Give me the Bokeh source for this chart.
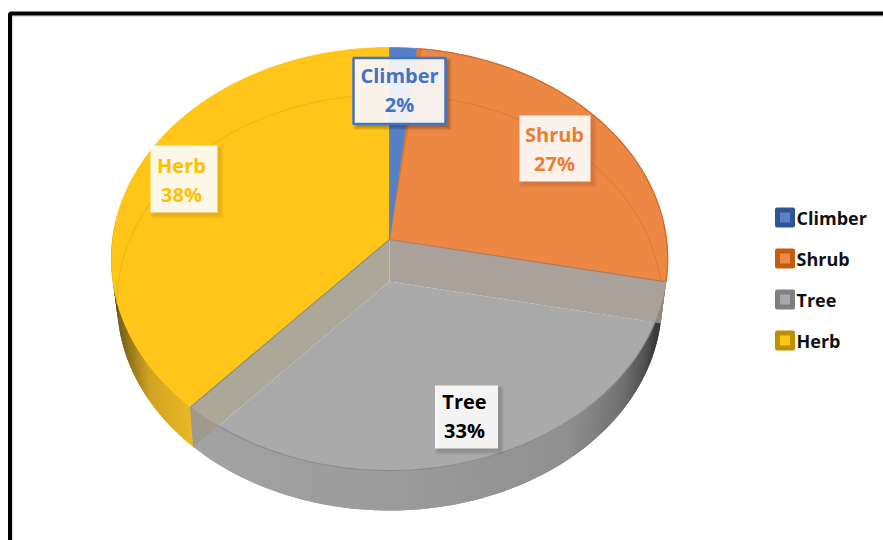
import numpy as np
from bokeh.core.properties import value
from bokeh.embed import file_html
from bokeh.models import Range1d
from bokeh.plotting import figure
from bokeh.resources import INLINE

categories = ["Climber", "Shrub", "Tree", "Herb"]
percents = [2, 27, 33, 38]

FONT = value("Open Sans")
CX = 389.0


def view_angle(deg):
    """Slight foreshortening of the sweep around the disc."""
    deg = np.asarray(deg, dtype=float)
    r = np.radians(deg)
    pull = np.sqrt(np.abs(np.sin(r)))
    return np.where(deg < 180, deg - 3.0 * pull, deg - 1.5 * pull)


def disc(deg, apex_y, half_w, scale_y, persp):
    """Perspective projection of a point on a disc rim seen from the front."""
    r = np.radians(view_angle(deg))
    u, v = np.sin(r), np.cos(r)
    w = 1 + persp * v
    return CX + half_w * u / w, apex_y - scale_y * v / w


def top(deg):
    return disc(deg, 239.0, 277.0, 209.7, 0.0922)


def low(deg):
    return disc(deg, 281.0, 271.0, 205.9, 0.101)


def closed(*parts):
    xs, ys = [], []
    for px, py in parts:
        xs.extend(np.atleast_1d(px).tolist())
        ys.extend(np.atleast_1d(py).tolist())
    return xs, ys


def shade(stops, x):
    pos = [s[0] for s in stops]
    rgb = [np.interp(x, pos, [s[1][i] for s in stops]) for i in range(3)]
    return "#%02x%02x%02x" % tuple(int(round(c)) for c in rgb)


edges = np.cumsum([0] + percents) * 3.6
t_climb, t_shrub, t_tree = edges[1], edges[2], edges[3]
A_top = (CX, 239.0)
A_low = (CX, 281.0)

p = figure(width=883, height=540, x_range=Range1d(0, 883), y_range=Range1d(540, 0),
           output_backend="svg", toolbar_location=None, min_border=0)
p.axis.visible = False
p.grid.visible = False
p.outline_line_color = None
p.background_fill_color = "white"
p.border_fill_color = "white"

# Outer frame, open at the right and bottom of the page
p.line([11.5, 11.5, 883], [540, 15.5, 15.5], line_color="#cfcfcf", line_width=1.5)
p.line([9.5, 9.5, 883], [540, 13, 13], line_color="black", line_width=4)


def wall(t0, t1, stops, n=90):
    # Painted in order, each strip overlapping the next so no seams show
    ts = np.linspace(t0, t1, n + 1)
    xs, ys, cols = [], [], []
    for i in range(n):
        seg = ts[i:min(i + 3, n + 1)]
        tx, ty = top(seg)
        lx, ly = low(seg)
        xs.append(np.r_[tx, lx[::-1]].tolist())
        ys.append(np.r_[ty, ly[::-1]].tolist())
        cols.append(shade(stops, float(tx[0])))
    p.patches(xs, ys, fill_color=cols, line_color=None)


# Side walls of the disc, shaded along the horizontal position
wall(t_tree, 277, [(110, (84, 68, 18)), (124, (140, 112, 24)), (148, (208, 164, 34)), (195, (236, 186, 36))])
wall(t_shrub, t_tree, [(190, (163, 163, 163)), (400, (155, 155, 155)), (570, (144, 144, 144)),
                       (625, (112, 112, 112)), (648, (80, 80, 80)), (664, (44, 44, 44))], n=160)
wall(88, t_shrub, [(640, (196, 96, 34)), (670, (196, 96, 34))], n=10)

# Top faces of the opaque slices
herb_t = np.linspace(t_tree, 360, 160)
x, y = closed(A_top, top(herb_t))
p.patch(x, y, fill_color="#FFC518", line_color="#FFC518", line_width=0.8)

shrub_t = np.linspace(t_climb, t_shrub, 120)
x, y = closed(A_top, top(shrub_t))
p.patch(x, y, fill_color="#EC8744", line_color="#EC8744", line_width=0.8)
rx, ry = top(shrub_t)
p.line(rx, ry, line_color="#CF6A2A", line_width=1.2)

# Cut face of the shrub slice, seen just beside the climber slice
x, y = closed(A_top, top(np.array([t_climb, t_climb + 1.3])))
p.patch(x, y, fill_color="#DB7733", line_color=None)

climb_t = np.linspace(0, t_climb, 20)
x, y = closed(A_top, top(climb_t))
p.patch(x, y, fill_color="#5580C5", line_color="#5580C5", line_width=0.8)

# Faint far rim of the base, seen through the top faces
bx, by = low(np.linspace(t_tree + 42, 360, 100))
p.line(bx, by, line_color="#F0B81C", line_width=1.2)
bx, by = low(np.linspace(t_climb, t_shrub - 1, 100))
p.line(bx, by, line_color="#E07C3A", line_width=1.2)

# Translucent tree slice: two cut faces behind a grey floor
tA, tB = top(t_tree), top(t_shrub)
lA, lB = low(t_tree), low(t_shrub)
x, y = closed(A_top, tA, lA, A_low)
p.patch(x, y, fill_color="#ABA799", line_color=None)
x, y = closed(A_top, tB, lB, A_low)
p.patch(x, y, fill_color="#A9A19A", line_color=None)


def rim_hit(end, lo, hi):
    ts = np.linspace(lo, hi, 2000)
    rx, ry = top(ts)
    dx, dy = end[0] - A_low[0], end[1] - A_low[1]
    cross = (rx - A_low[0]) * dy - (ry - A_low[1]) * dx
    return ts[np.argmin(np.abs(cross))]


t_right = rim_hit(lB, t_shrub + 0.2, t_shrub + 40)
t_left = rim_hit(lA, t_tree - 40, t_tree - 0.2)

x, y = closed(tA, top(np.linspace(t_tree, t_left, 20)), lA)
p.patch(x, y, fill_color="#9F9A8C", line_color=None)
x, y = closed(tB, top(np.linspace(t_shrub, t_right, 20)), lB)
p.patch(x, y, fill_color="#8E8881", line_color=None)

floor_t = np.linspace(t_right, t_left, 160)
x, y = closed(A_low, top(floor_t))
p.patch(x, y, fill_color="#AAAAAA", line_color=None)
fx, fy = top(floor_t)
p.line(fx, fy, line_color="#8C8C8C", line_width=1.2)

# Slice boundaries on the top surface
p.line([A_top[0], float(tA[0])], [A_top[1], float(tA[1])], line_color="#8F8F78", line_width=1.2)
p.line([A_top[0], float(tB[0])], [A_top[1], float(tB[1])], line_color="#A8805F", line_width=1.2)
p.line([float(tA[0]), float(lA[0])], [float(tA[1]), float(lA[1])], line_color="#9A9A90", line_width=1)

# Data labels: box centre x/y, width, height, text centre x/y, colour, border, shadow
label_boxes = [
    (399, 90.5, 92, 66, 399, 90, "#4472C4", "#4472C4", 0.07),
    (554.5, 148, 71, 66, 554, 149, "#ED7D31", None, 0.025),
    (466, 416.5, 63, 63, 464, 416, "#000000", None, 0.04),
    (183.5, 178.5, 67, 67, 181, 179.5, "#FFC000", None, 0.025),
]
for name, pct, (bx0, by0, bw, bh, tx0, ty0, col, border, sh) in zip(categories, percents, label_boxes):
    for grow in (6, 4, 2, 0):
        p.rect([bx0 + 3], [by0 + 3], width=bw + grow, height=bh + grow,
               fill_color="black", fill_alpha=sh, line_color=None)
    p.rect([bx0], [by0], width=bw, height=bh, fill_color="white", fill_alpha=0.9,
           line_color=border, line_width=2.5 if border else 0, line_alpha=1 if border else 0)
    p.text([tx0], [ty0 - 15], text=[name], text_color=col, text_font=FONT, text_font_style="bold",
           text_font_size="20px", text_align="center", text_baseline="middle")
    p.text([tx0], [ty0 + 14], text=[f"{pct}%"], text_color=col, text_font=FONT, text_font_style="bold",
           text_font_size="20px", text_align="center", text_baseline="middle")

# Legend
legend_outer = ["#2F5597", "#C55A11", "#7F7F7F", "#BF9000"]
legend_inner = ["#5B80C8", "#ED8A4B", "#A9A9A9", "#FFC518"]
legend_y = [217, 258, 299, 340]
p.rect([784.5] * 4, legend_y, width=20, height=20, fill_color=legend_outer, line_color=None,
       border_radius=2)
p.rect([784.5] * 4, legend_y, width=10, height=10, fill_color=legend_inner, line_color=None)
p.text([796] * 4, legend_y, text=categories, text_color="#111111", text_font=FONT,
       text_font_style="bold", text_font_size="18px", text_align="left", text_baseline="middle")

open("out.html", "w").write(file_html(p, INLINE))
